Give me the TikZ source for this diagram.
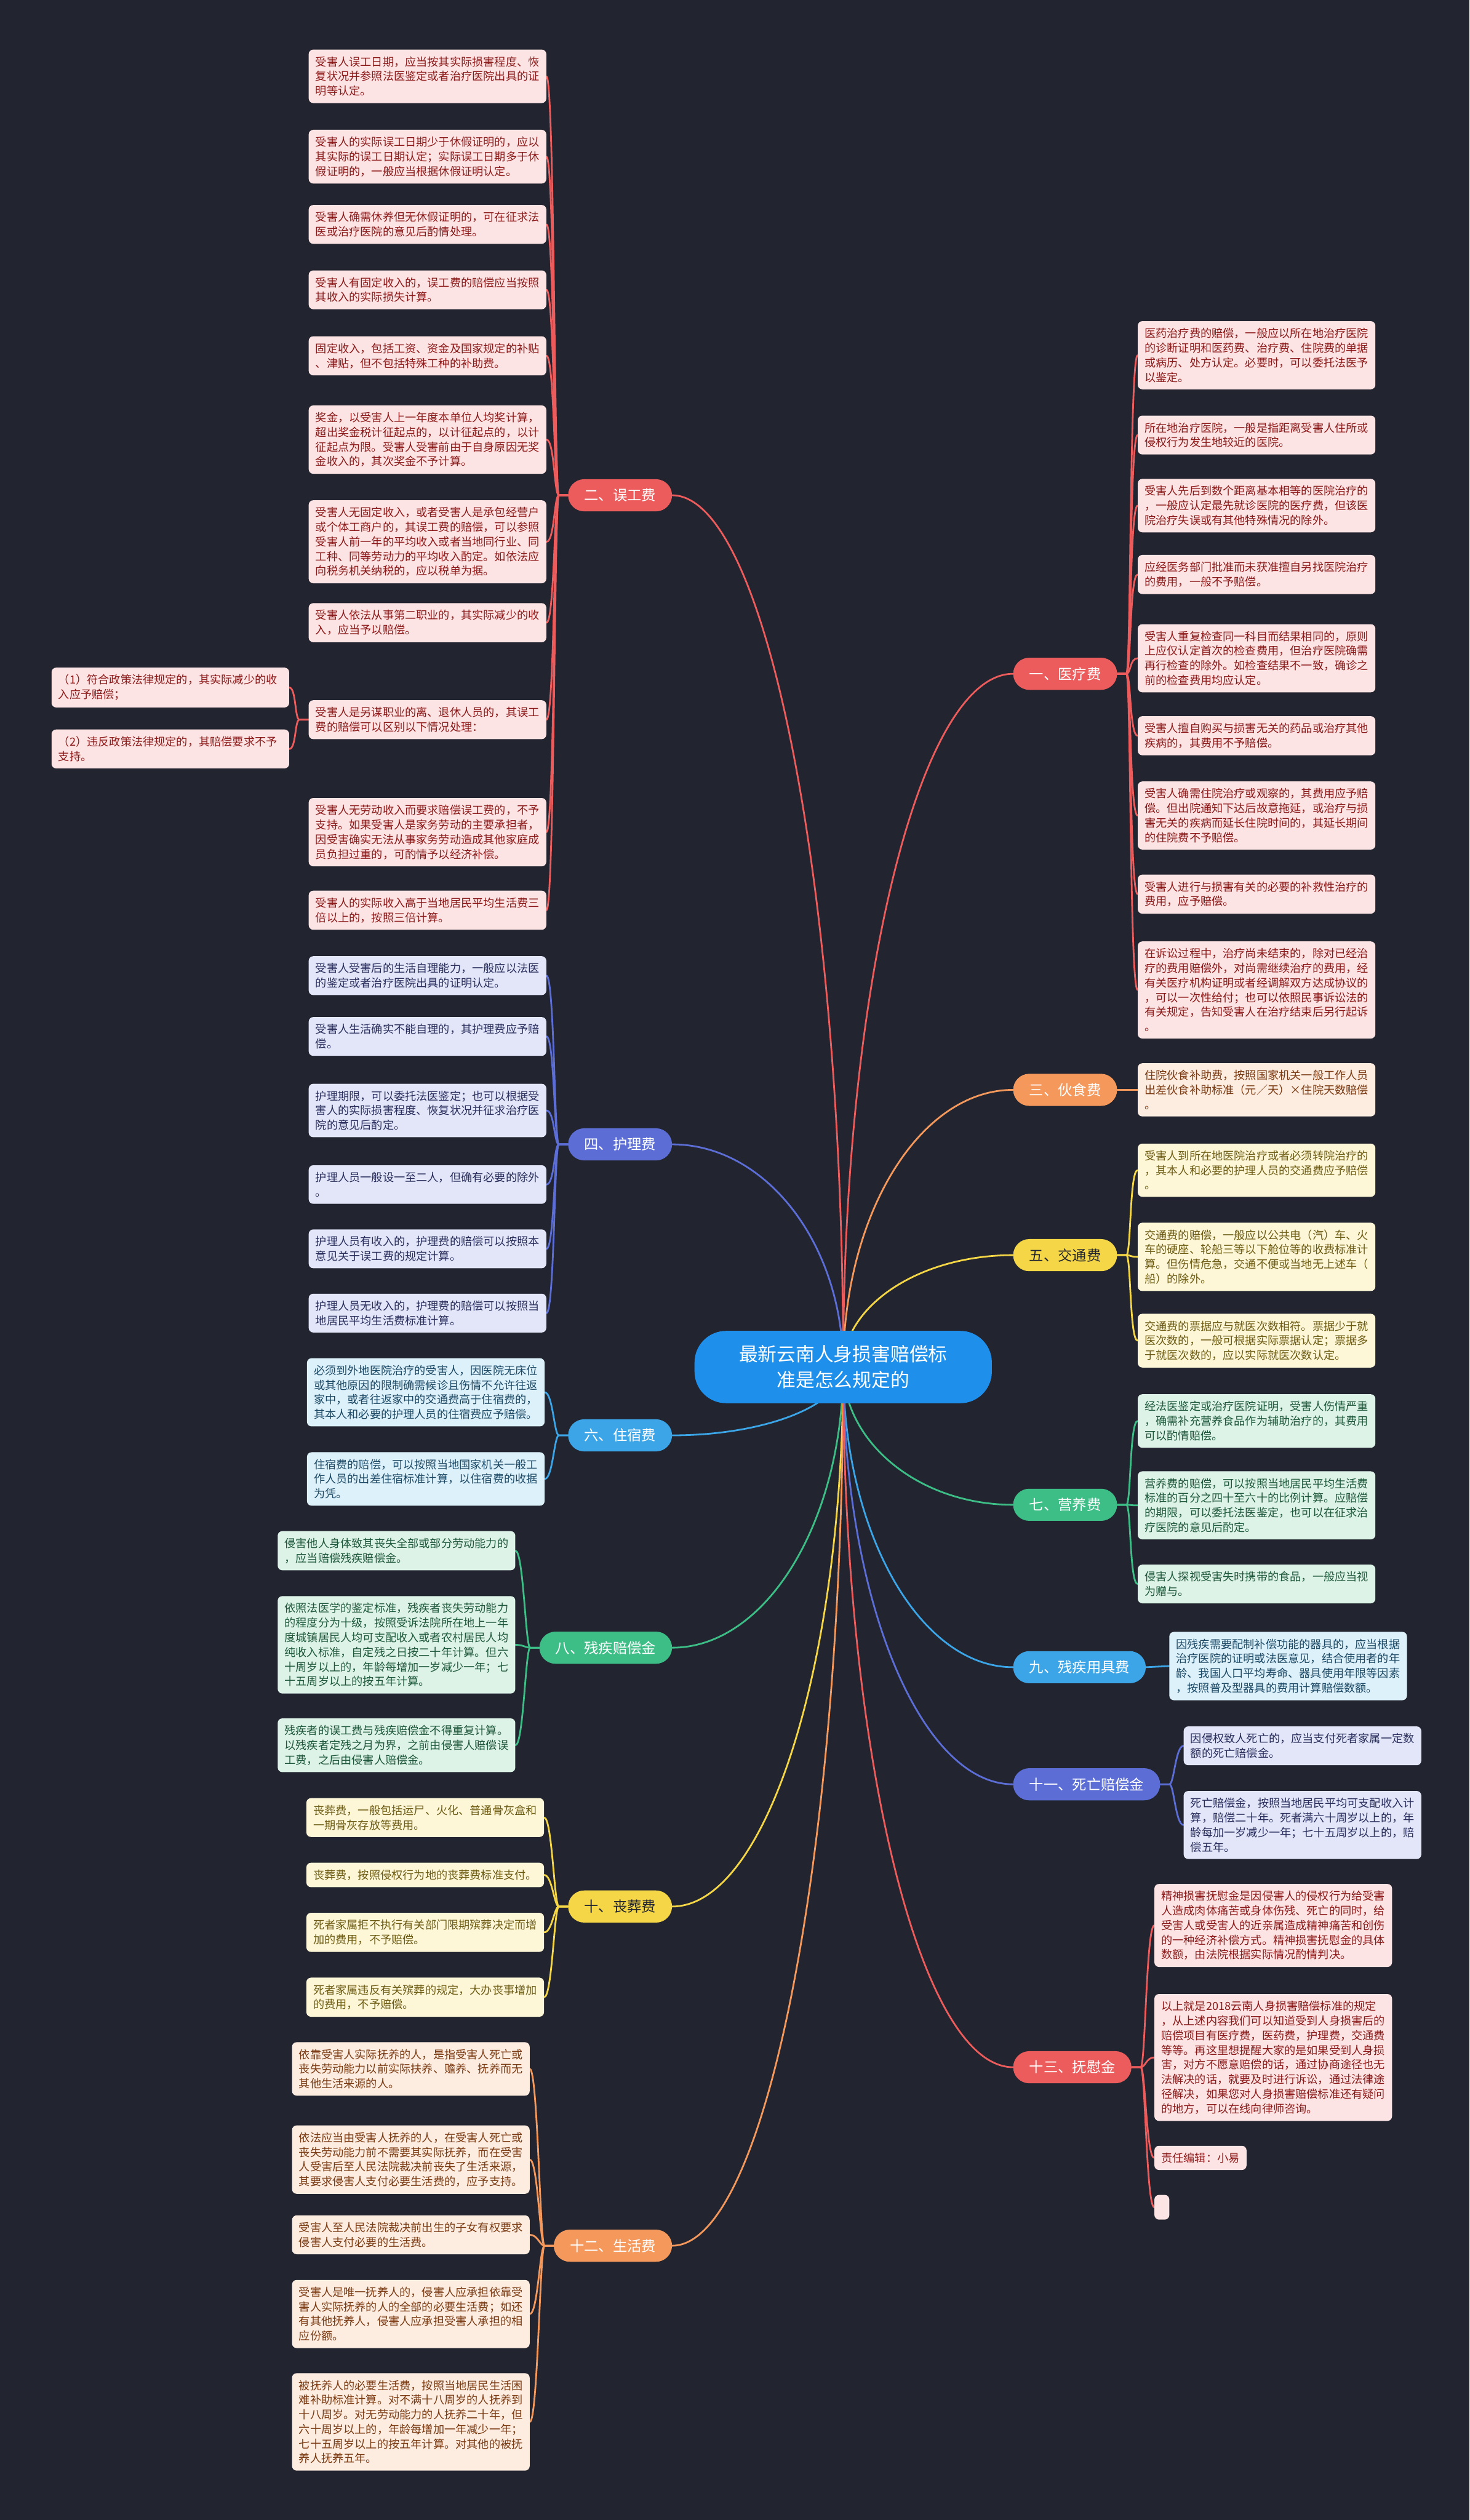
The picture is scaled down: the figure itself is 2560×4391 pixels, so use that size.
\documentclass[tikz,border=0pt]{standalone}
\usepackage{fontspec}
\setmainfont{Noto Sans CJK SC}
\usetikzlibrary{calc,positioning}
\definecolor{mapbg}{RGB}{34,37,48}
\definecolor{rootblue}{RGB}{30,144,236}
\definecolor{mred}{RGB}{236,92,92}
\definecolor{mredlt}{RGB}{253,228,228}
\definecolor{mreddk}{RGB}{140,25,25}
\definecolor{morange}{RGB}{245,152,92}
\definecolor{moranlt}{RGB}{253,236,224}
\definecolor{morandk}{RGB}{122,58,18}
\definecolor{myellow}{RGB}{244,214,70}
\definecolor{myellt}{RGB}{253,247,215}
\definecolor{myeldk}{RGB}{110,92,20}
\definecolor{mgreen}{RGB}{62,190,135}
\definecolor{mgrelt}{RGB}{222,243,232}
\definecolor{mgredk}{RGB}{30,88,58}
\definecolor{mblue}{RGB}{60,165,232}
\definecolor{mblult}{RGB}{221,241,251}
\definecolor{mbludk}{RGB}{27,72,100}
\definecolor{mpurple}{RGB}{92,110,214}
\definecolor{mpurlt}{RGB}{227,230,248}
\definecolor{mpurdk}{RGB}{40,45,92}
\pgfdeclarelayer{backdrop}
\pgfdeclarelayer{links}
\pgfsetlayers{backdrop,links,main}

\begin{document}
\begin{tikzpicture}[x=1pt, y=-1pt,
    root/.style={fill=rootblue, text=white, rounded corners=55pt, minimum width=518pt, minimum height=126pt, align=center, inner sep=0pt, font=\fontsize{33pt}{45pt}\selectfont},
    branch/.style={rounded corners=28pt, minimum height=56pt, inner xsep=28pt, inner ysep=0pt, font=\fontsize{25pt}{30pt}\selectfont},
    leaf/.style={rounded corners=8pt, text width=390pt, align=left, inner xsep=12pt, inner ysep=12pt, font=\fontsize{19.5pt}{25.5pt}\selectfont},
    redbr/.style={branch, fill=mred, text=white}, redlf/.style={leaf, fill=mredlt, text=mreddk},
    orabr/.style={branch, fill=morange, text=white}, oralf/.style={leaf, fill=moranlt, text=morandk},
    yelbr/.style={branch, fill=myellow, text=mapbg}, yellf/.style={leaf, fill=myellt, text=myeldk},
    grebr/.style={branch, fill=mgreen, text=white}, grelf/.style={leaf, fill=mgrelt, text=mgredk},
    blubr/.style={branch, fill=mblue, text=white}, blulf/.style={leaf, fill=mblult, text=mbludk},
    purbr/.style={branch, fill=mpurple, text=white}, purlf/.style={leaf, fill=mpurlt, text=mpurdk},
    link/.style={line width=3pt, line cap=round}
  ]
  \begin{pgfonlayer}{backdrop}
    \fill[mapbg] (0,0) rectangle (2560,4391);
  \end{pgfonlayer}

  % centre
  \node[root] (root) at (1469,2382) {最新云南人身损害赔偿标\\准是怎么规定的};

  % branches, left side
  \node[redbr, anchor=east] (wg) at (1171,863) {二、误工费};
  \node[purbr, anchor=east] (hl) at (1171,1994) {四、护理费};
  \node[blubr, anchor=east] (zs) at (1171,2501) {六、住宿费};
  \node[grebr, anchor=east] (cj) at (1171,2871) {八、残疾赔偿金};
  \node[yelbr, anchor=east] (sz) at (1171,3322) {十、丧葬费};
  \node[orabr, anchor=east] (shf) at (1171,3913) {十二、生活费};

  % branches, right side
  \node[redbr, anchor=west] (yl) at (1765,1174) {一、医疗费};
  \node[orabr, anchor=west] (hs) at (1765,1899) {三、伙食费};
  \node[yelbr, anchor=west] (jt) at (1765,2187) {五、交通费};
  \node[grebr, anchor=west] (yy) at (1765,2622) {七、营养费};
  \node[blubr, anchor=west] (yj) at (1765,2905) {九、残疾用具费};
  \node[purbr, anchor=west] (sw) at (1765,3109) {十一、死亡赔偿金};
  \node[redbr, anchor=west] (fw) at (1765,3602) {十三、抚慰金};

  % 误工费
  \node[redlf, anchor=east] (w1) at (952,133) {受害人误工日期，应当按其实际损害程度、恢\\复状况并参照法医鉴定或者治疗医院出具的证\\明等认定。};
  \node[redlf, anchor=east] (w2) at (952,273) {受害人的实际误工日期少于休假证明的，应以\\其实际的误工日期认定；实际误工日期多于休\\假证明的，一般应当根据休假证明认定。};
  \node[redlf, anchor=east] (w3) at (952,391) {受害人确需休养但无休假证明的，可在征求法\\医或治疗医院的意见后酌情处理。};
  \node[redlf, anchor=east] (w4) at (952,505) {受害人有固定收入的，误工费的赔偿应当按照\\其收入的实际损失计算。};
  \node[redlf, anchor=east] (w5) at (952,620) {固定收入，包括工资、资金及国家规定的补贴\\、津贴，但不包括特殊工种的补助费。};
  \node[redlf, anchor=east] (w6) at (952,766) {奖金，以受害人上一年度本单位人均奖计算，\\超出奖金税计征起点的，以计征起点的，以计\\征起点为限。受害人受害前由于自身原因无奖\\金收入的，其次奖金不予计算。};
  \node[redlf, anchor=east] (w7) at (952,944) {受害人无固定收入，或者受害人是承包经营户\\或个体工商户的，其误工费的赔偿，可以参照\\受害人前一年的平均收入或者当地同行业、同\\工种、同等劳动力的平均收入酌定。如依法应\\向税务机关纳税的，应以税单为据。};
  \node[redlf, anchor=east] (w8) at (952,1085) {受害人依法从事第二职业的，其实际减少的收\\入，应当予以赔偿。};
  \node[redlf, anchor=east] (w9) at (952,1254) {受害人是另谋职业的离、退休人员的，其误工\\费的赔偿可以区别以下情况处理：};
  \node[redlf, anchor=east] (w9a) at (504,1198) {（1）符合政策法律规定的，其实际减少的收\\入应予赔偿；};
  \node[redlf, anchor=east] (w9b) at (504,1305) {（2）违反政策法律规定的，其赔偿要求不予\\支持。};
  \node[redlf, anchor=east] (w10) at (952,1450) {受害人无劳动收入而要求赔偿误工费的，不予\\支持。如果受害人是家务劳动的主要承担者，\\因受害确实无法从事家务劳动造成其他家庭成\\员负担过重的，可酌情予以经济补偿。};
  \node[redlf, anchor=east] (w11) at (952,1586) {受害人的实际收入高于当地居民平均生活费三\\倍以上的，按照三倍计算。};

  % 护理费
  \node[purlf, anchor=east] (p1) at (952,1700) {受害人受害后的生活自理能力，一般应以法医\\的鉴定或者治疗医院出具的证明认定。};
  \node[purlf, anchor=east] (p2) at (952,1806) {受害人生活确实不能自理的，其护理费应予赔\\偿。};
  \node[purlf, anchor=east] (p3) at (952,1935) {护理期限，可以委托法医鉴定；也可以根据受\\害人的实际损害程度、恢复状况并征求治疗医\\院的意见后酌定。};
  \node[purlf, anchor=east] (p4) at (952,2064) {护理人员一般设一至二人，但确有必要的除外\\。};
  \node[purlf, anchor=east] (p5) at (952,2176) {护理人员有收入的，护理费的赔偿可以按照本\\意见关于误工费的规定计算。};
  \node[purlf, anchor=east] (p6) at (952,2288) {护理人员无收入的，护理费的赔偿可以按照当\\地居民平均生活费标准计算。};

  % 住宿费
  \node[blulf, anchor=east] (z1) at (949,2426) {必须到外地医院治疗的受害人，因医院无床位\\或其他原因的限制确需候诊且伤情不允许往返\\家中，或者往返家中的交通费高于住宿费的，\\其本人和必要的护理人员的住宿费应予赔偿。};
  \node[blulf, anchor=east] (z2) at (949,2577) {住宿费的赔偿，可以按照当地国家机关一般工\\作人员的出差住宿标准计算，以住宿费的收据\\为凭。};

  % 残疾赔偿金
  \node[grelf, anchor=east] (c1) at (898,2702) {侵害他人身体致其丧失全部或部分劳动能力的\\，应当赔偿残疾赔偿金。};
  \node[grelf, anchor=east] (c2) at (898,2866) {依照法医学的鉴定标准，残疾者丧失劳动能力\\的程度分为十级，按照受诉法院所在地上一年\\度城镇居民人均可支配收入或者农村居民人均\\纯收入标准，自定残之日按二十年计算。但六\\十周岁以上的，年龄每增加一岁减少一年；七\\十五周岁以上的按五年计算。};
  \node[grelf, anchor=east] (c3) at (898,3041) {残疾者的误工费与残疾赔偿金不得重复计算。\\以残疾者定残之月为界，之前由侵害人赔偿误\\工费，之后由侵害人赔偿金。};

  % 丧葬费
  \node[yellf, anchor=east] (s1) at (948,3167) {丧葬费，一般包括运尸、火化、普通骨灰盒和\\一期骨灰存放等费用。};
  \node[yellf, anchor=east] (s2) at (948,3267) {丧葬费，按照侵权行为地的丧葬费标准支付。};
  \node[yellf, anchor=east] (s3) at (948,3367) {死者家属拒不执行有关部门限期殡葬决定而增\\加的费用，不予赔偿。};
  \node[yellf, anchor=east] (s4) at (948,3480) {死者家属违反有关殡葬的规定，大办丧事增加\\的费用，不予赔偿。};

  % 生活费
  \node[oralf, anchor=east] (v1) at (923,3605) {依靠受害人实际抚养的人，是指受害人死亡或\\丧失劳动能力以前实际扶养、赡养、抚养而无\\其他生活来源的人。};
  \node[oralf, anchor=east] (v2) at (923,3763) {依法应当由受害人抚养的人，在受害人死亡或\\丧失劳动能力前不需要其实际抚养，而在受害\\人受害后至人民法院裁决前丧失了生活来源，\\其要求侵害人支付必要生活费的，应予支持。};
  \node[oralf, anchor=east] (v3) at (923,3894) {受害人至人民法院裁决前出生的子女有权要求\\侵害人支付必要的生活费。};
  \node[oralf, anchor=east] (v4) at (923,4032) {受害人是唯一抚养人的，侵害人应承担依靠受\\害人实际抚养的人的全部的必要生活费；如还\\有其他抚养人，侵害人应承担受害人承担的相\\应份额。};
  \node[oralf, anchor=east] (v5) at (923,4220) {被抚养人的必要生活费，按照当地居民生活困\\难补助标准计算。对不满十八周岁的人抚养到\\十八周岁。对无劳动能力的人抚养二十年，但\\六十周岁以上的，年龄每增加一年减少一年；\\七十五周岁以上的按五年计算。对其他的被抚\\养人抚养五年。};

  % 医疗费
  \node[redlf, anchor=west] (y1) at (1982,619) {医药治疗费的赔偿，一般应以所在地治疗医院\\的诊断证明和医药费、治疗费、住院费的单据\\或病历、处方认定。必要时，可以委托法医予\\以鉴定。};
  \node[redlf, anchor=west] (y2) at (1982,758) {所在地治疗医院，一般是指距离受害人住所或\\侵权行为发生地较近的医院。};
  \node[redlf, anchor=west] (y3) at (1982,881) {受害人先后到数个距离基本相等的医院治疗的\\，一般应认定最先就诊医院的医疗费，但该医\\院治疗失误或有其他特殊情况的除外。};
  \node[redlf, anchor=west] (y4) at (1982,1001) {应经医务部门批准而未获准擅自另找医院治疗\\的费用，一般不予赔偿。};
  \node[redlf, anchor=west] (y5) at (1982,1147) {受害人重复检查同一科目而结果相同的，原则\\上应仅认定首次的检查费用，但治疗医院确需\\再行检查的除外。如检查结果不一致，确诊之\\前的检查费用均应认定。};
  \node[redlf, anchor=west] (y6) at (1982,1282) {受害人擅自购买与损害无关的药品或治疗其他\\疾病的，其费用不予赔偿。};
  \node[redlf, anchor=west] (y7) at (1982,1421) {受害人确需住院治疗或观察的，其费用应予赔\\偿。但出院通知下达后故意拖延，或治疗与损\\害无关的疾病而延长住院时间的，其延长期间\\的住院费不予赔偿。};
  \node[redlf, anchor=west] (y8) at (1982,1558) {受害人进行与损害有关的必要的补救性治疗的\\费用，应予赔偿。};
  \node[redlf, anchor=west] (y9) at (1982,1725) {在诉讼过程中，治疗尚未结束的，除对已经治\\疗的费用赔偿外，对尚需继续治疗的费用，经\\有关医疗机构证明或者经调解双方达成协议的\\，可以一次性给付；也可以依照民事诉讼法的\\有关规定，告知受害人在治疗结束后另行起诉\\。};

  % 伙食费
  \node[oralf, anchor=west] (h1) at (1982,1899) {住院伙食补助费，按照国家机关一般工作人员\\出差伙食补助标准（元／天）×住院天数赔偿\\。};

  % 交通费
  \node[yellf, anchor=west] (t1) at (1982,2039) {受害人到所在地医院治疗或者必须转院治疗的\\，其本人和必要的护理人员的交通费应予赔偿\\。};
  \node[yellf, anchor=west] (t2) at (1982,2190) {交通费的赔偿，一般应以公共电（汽）车、火\\车的硬座、轮船三等以下舱位等的收费标准计\\算。但伤情危急，交通不便或当地无上述车（\\船）的除外。};
  \node[yellf, anchor=west] (t3) at (1982,2336) {交通费的票据应与就医次数相符。票据少于就\\医次数的，一般可根据实际票据认定；票据多\\于就医次数的，应以实际就医次数认定。};

  % 营养费
  \node[grelf, anchor=west] (n1) at (1982,2476) {经法医鉴定或治疗医院证明，受害人伤情严重\\，确需补充营养食品作为辅助治疗的，其费用\\可以酌情赔偿。};
  \node[grelf, anchor=west] (n2) at (1982,2623) {营养费的赔偿，可以按照当地居民平均生活费\\标准的百分之四十至六十的比例计算。应赔偿\\的期限，可以委托法医鉴定，也可以在征求治\\疗医院的意见后酌定。};
  \node[grelf, anchor=west] (n3) at (1982,2760) {侵害人探视受害失时携带的食品，一般应当视\\为赠与。};

  % 残疾用具费
  \node[blulf, anchor=west] (e1) at (2037,2903) {因残疾需要配制补偿功能的器具的，应当根据\\治疗医院的证明或法医意见，结合使用者的年\\龄、我国人口平均寿命、器具使用年限等因素\\，按照普及型器具的费用计算赔偿数额。};

  % 死亡赔偿金
  \node[purlf, anchor=west] (d1) at (2062,3042) {因侵权致人死亡的，应当支付死者家属一定数\\额的死亡赔偿金。};
  \node[purlf, anchor=west] (d2) at (2062,3180) {死亡赔偿金，按照当地居民平均可支配收入计\\算，赔偿二十年。死者满六十周岁以上的，年\\龄每加一岁减少一年；七十五周岁以上的，赔\\偿五年。};

  % 抚慰金
  \node[redlf, anchor=west] (f1) at (2011,3355) {精神损害抚慰金是因侵害人的侵权行为给受害\\人造成肉体痛苦或身体伤残、死亡的同时，给\\受害人或受害人的近亲属造成精神痛苦和创伤\\的一种经济补偿方式。精神损害抚慰金的具体\\数额，由法院根据实际情况酌情判决。};
  \node[redlf, anchor=west] (f2) at (2011,3585) {以上就是2018云南人身损害赔偿标准的规定\\，从上述内容我们可以知道受到人身损害后的\\赔偿项目有医疗费，医药费，护理费，交通费\\等等。再这里想提醒大家的是如果受到人身损\\害，对方不愿意赔偿的话，通过协商途径也无\\法解决的话，就要及时进行诉讼，通过法律途\\径解决，如果您对人身损害赔偿标准还有疑问\\的地方，可以在线向律师咨询。};
  \node[redlf, anchor=west, text width=] (f3) at (2011,3760) {责任编辑：小易};
  \node[redlf, anchor=west, text width=, minimum width=26pt, minimum height=43pt, inner sep=0pt] (f4) at (2011,3846) {};

  \begin{pgfonlayer}{links}
    % centre to branches
    \foreach \b/\c in {wg/mred, hl/mpurple, zs/mblue, cj/mgreen, sz/myellow, shf/morange}
      \draw[link, \c] (root.center) .. controls ($(root.center)!.55!(root.center |- \b.east)$) and ($(\b.east)!.55!(\b.east -| root.center)$) .. (\b.east);
    \foreach \b/\c in {yl/mred, hs/morange, jt/myellow, yy/mgreen, yj/mblue, sw/mpurple, fw/mred}
      \draw[link, \c] (root.center) .. controls ($(root.center)!.55!(root.center |- \b.west)$) and ($(\b.west)!.55!(\b.west -| root.center)$) .. (\b.west);

    % branches to leaves, left
    \foreach \l in {w1,w2,w3,w4,w5,w6,w7,w8,w9,w10,w11}
      \draw[link, mred] (wg.west) -- ++(-16,0) .. controls +(-8,0) and +(14,0) .. (\l.east);
    \foreach \l in {w9a,w9b}
      \draw[link, mred] (w9.west) -- ++(-16,0) .. controls +(-8,0) and +(12,0) .. (\l.east);
    \foreach \l in {p1,p2,p3,p4,p5,p6}
      \draw[link, mpurple] (hl.west) -- ++(-16,0) .. controls +(-8,0) and +(14,0) .. (\l.east);
    \foreach \l in {z1,z2}
      \draw[link, mblue] (zs.west) -- ++(-16,0) .. controls +(-8,0) and +(14,0) .. (\l.east);
    \foreach \l in {c1,c2,c3}
      \draw[link, mgreen] (cj.west) -- ++(-16,0) .. controls +(-8,0) and +(14,0) .. (\l.east);
    \foreach \l in {s1,s2,s3,s4}
      \draw[link, myellow] (sz.west) -- ++(-16,0) .. controls +(-8,0) and +(14,0) .. (\l.east);
    \foreach \l in {v1,v2,v3,v4,v5}
      \draw[link, morange] (shf.west) -- ++(-16,0) .. controls +(-8,0) and +(14,0) .. (\l.east);

    % branches to leaves, right
    \foreach \l in {y1,y2,y3,y4,y5,y6,y7,y8,y9}
      \draw[link, mred] (yl.east) -- ++(16,0) .. controls +(8,0) and +(-14,0) .. (\l.west);
    \draw[link, morange] (hs.east) -- (h1.west);
    \foreach \l in {t1,t2,t3}
      \draw[link, myellow] (jt.east) -- ++(16,0) .. controls +(8,0) and +(-14,0) .. (\l.west);
    \foreach \l in {n1,n2,n3}
      \draw[link, mgreen] (yy.east) -- ++(16,0) .. controls +(8,0) and +(-14,0) .. (\l.west);
    \draw[link, mblue] (yj.east) -- (e1.west);
    \foreach \l in {d1,d2}
      \draw[link, mpurple] (sw.east) -- ++(16,0) .. controls +(8,0) and +(-14,0) .. (\l.west);
    \foreach \l in {f1,f2,f3,f4}
      \draw[link, mred] (fw.east) -- ++(16,0) .. controls +(8,0) and +(-14,0) .. (\l.west);
  \end{pgfonlayer}
\end{tikzpicture}
\end{document}
